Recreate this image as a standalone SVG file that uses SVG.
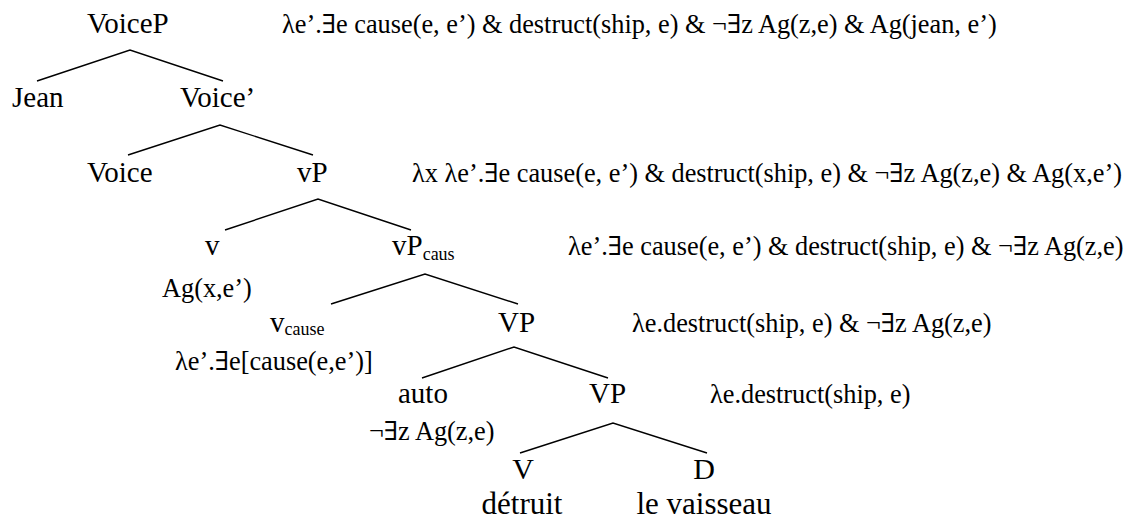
<svg xmlns="http://www.w3.org/2000/svg" width="1144" height="521" viewBox="0 0 1144 521">
<style>
text{font-family:"Liberation Serif","DejaVu Serif",serif;fill:#000}
.n{font-size:29px}
.l{font-size:30px}
.w{font-size:31px}
.f{font-size:26.3px}
.s{font-size:18px}
.e{stroke:#000;stroke-width:1.4;fill:none}
</style>
<rect width="1144" height="521" fill="#fff"/>
<g id="connectors">
<path class="e" d="M37,81L130,50L223,81"/>
<path class="e" d="M128,155L220,125L313,155"/>
<path class="e" d="M225,230L318,199L411,230"/>
<path class="e" d="M331,304L425,274L518,304"/>
<path class="e" d="M422,378L514,347L608,378"/>
<path class="e" d="M520,453L613,423L707,453"/>
</g>
<g id="VoiceP"><text class="n" x="87" y="33">VoiceP</text><text class="f" x="282" y="33">λe’.∃e cause(e, e’) &amp; destruct(ship, e) &amp; ¬∃z Ag(z,e) &amp; Ag(jean, e’)</text></g>
<g id="Jean"><text class="n" x="12" y="107">Jean</text></g>
<g id="VoiceBar"><text class="n" x="180" y="107">Voice’</text></g>
<g id="Voice"><text class="n" x="87" y="182">Voice</text></g>
<g id="vP"><text class="n" x="297" y="182">vP</text><text class="f" x="412" y="182">λx λe’.∃e cause(e, e’) &amp; destruct(ship, e) &amp; ¬∃z Ag(z,e) &amp; Ag(x,e’)</text></g>
<g id="v"><text class="n" x="205" y="255">v</text><text class="f" x="162" y="297">Ag(x,e’)</text></g>
<g id="vPcaus"><text class="n" x="392" y="255">vP<tspan class="s" dy="5">caus</tspan></text><text class="f" x="568" y="255">λe’.∃e cause(e, e’) &amp; destruct(ship, e) &amp; ¬∃z Ag(z,e)</text></g>
<g id="vcause"><text class="n" x="270" y="332">v<tspan class="s" dy="3">cause</tspan></text><text class="f" x="175" y="370">λe’.∃e[cause(e,e’)]</text></g>
<g id="VP1"><text class="n" x="498" y="332">VP</text><text class="f" x="632" y="332">λe.destruct(ship, e) &amp; ¬∃z Ag(z,e)</text></g>
<g id="auto"><text class="n" x="398" y="403">auto</text><text class="f" x="369" y="440">¬∃z Ag(z,e)</text></g>
<g id="VP2"><text class="n" x="589" y="403">VP</text><text class="f" x="710" y="403">λe.destruct(ship, e)</text></g>
<g id="V"><text class="l" x="523" y="479" text-anchor="middle">V</text><text class="w" x="522" y="514" text-anchor="middle">détruit</text></g>
<g id="D"><text class="l" x="704" y="479" text-anchor="middle">D</text><text class="w" x="704" y="514" text-anchor="middle">le vaisseau</text></g>
</svg>
